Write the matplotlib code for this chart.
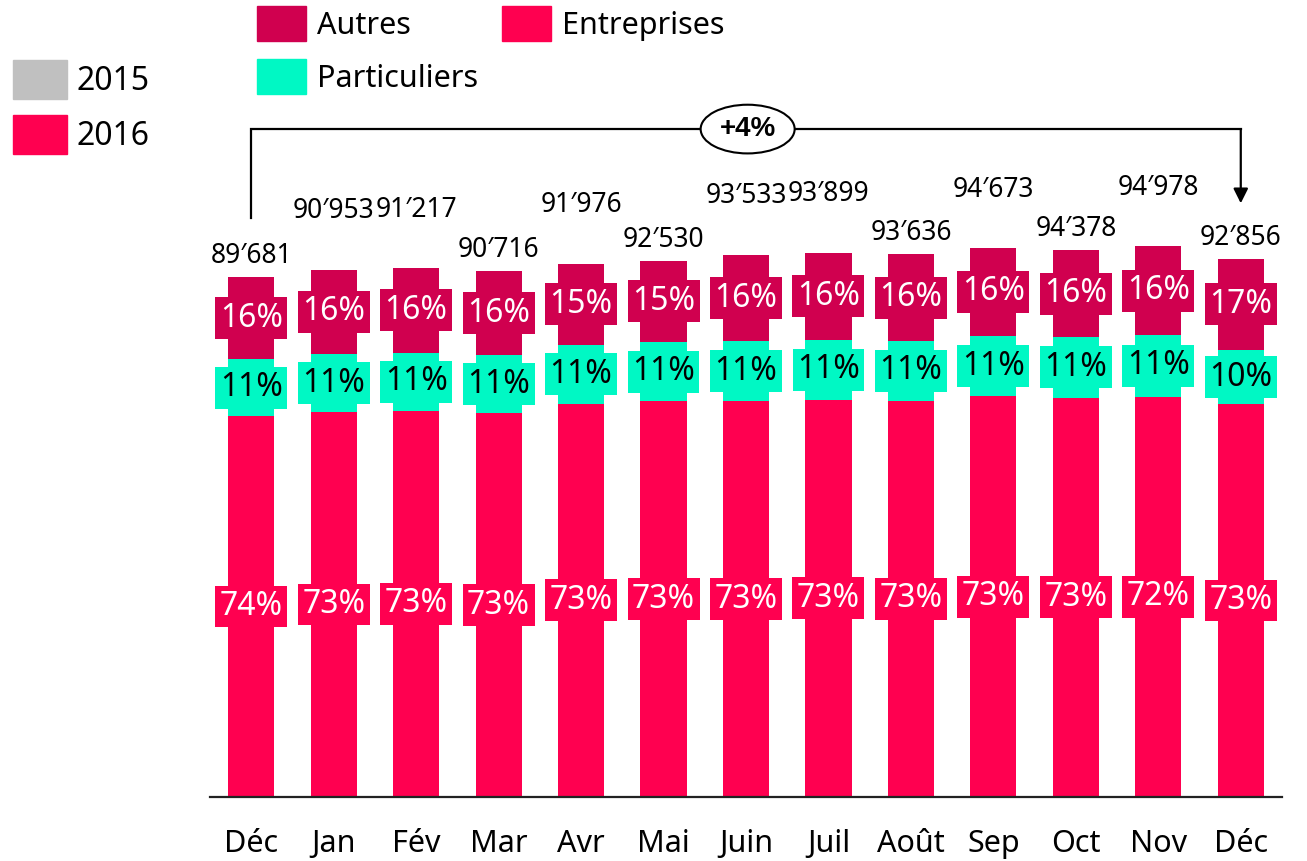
import matplotlib
matplotlib.use("Agg")
import numpy as np
import matplotlib.pyplot as plt
from matplotlib.patches import Patch, Ellipse

plt.rcParams['font.family'] = ['Noto Sans', 'DejaVu Sans']

months = ["Déc", "Jan", "Fév", "Mar", "Avr", "Mai", "Juin", "Juil", "Août", "Sep", "Oct", "Nov", "Déc"]
totals = [89681, 90953, 91217, 90716, 91976, 92530, 93533, 93899, 93636, 94673, 94378, 94978, 92856]
pct_entreprises = [74, 73, 73, 73, 73, 73, 73, 73, 73, 73, 73, 72, 73]
pct_particuliers = [11, 11, 11, 11, 11, 11, 11, 11, 11, 11, 11, 11, 10]
pct_autres = [16, 16, 16, 16, 15, 15, 16, 16, 16, 16, 16, 16, 17]

c_autres = "#D0004F"
c_ent = "#FF0050"
c_part = "#00F8C4"
c_2015 = "#C0C0C0"

# label levels for the totals (0 = just above the bar, 1 = lifted)
label_level = [0, 1, 1, 0, 1, 0, 1, 1, 0, 1, 0, 1, 0]

tot = np.array(totals, dtype=float)
pe = np.array(pct_entreprises, dtype=float)
pp = np.array(pct_particuliers, dtype=float)
pa = np.array(pct_autres, dtype=float)
s = pe + pp + pa
v_ent = tot * pe / s
v_part = tot * pp / s
v_aut = tot * pa / s

fig = plt.figure(figsize=(13.07, 8.61), dpi=100)
ax = fig.add_axes([210 / 1307, 64 / 861, (1282 - 210) / 1307, 797 / 861])
x = np.arange(len(months))
w = 0.56

ax.bar(x, v_ent, w, color=c_ent)
ax.bar(x, v_part, w, bottom=v_ent, color=c_part)
ax.bar(x, v_aut, w, bottom=v_ent + v_part, color=c_autres)

ax.set_xlim(-0.5, 12.5)
ax.set_ylim(0, 797 / 0.005798)
for sp in ["top", "left", "right"]:
    ax.spines[sp].set_visible(False)
ax.spines["bottom"].set_linewidth(1.6)
ax.spines["bottom"].set_color("#222222")
ax.set_yticks([])
ax.set_xticks(x)
ax.set_xticklabels(months, fontsize=22)
ax.tick_params(axis="x", length=0, pad=23)

# segment labels
def seg_label(xi, yc, txt, fc, tc):
    ax.text(xi, yc, txt, ha="center", va="center", fontsize=23, color=tc,
            bbox=dict(boxstyle="square,pad=0.14", fc=fc, ec="none"))

for i in x:
    seg_label(i, v_ent[i] / 2, f"{pct_entreprises[i]}%", c_ent, "white")
    seg_label(i, v_ent[i] + v_part[i] / 2, f"{pct_particuliers[i]}%", c_part, "black")
    seg_label(i, v_ent[i] + v_part[i] + v_aut[i] / 2, f"{pct_autres[i]}%", c_autres, "white")

# totals
for i in x:
    off = 10 if label_level[i] == 0 else 37
    ax.annotate(f"{totals[i]:,}".replace(",", "′"), (i, totals[i]),
                xytext=(0, off), textcoords="offset points",
                ha="center", va="baseline", fontsize=19)

# growth bracket
y_br = 115200
ax.plot([0, 0, 12], [99800, y_br, y_br], color="black", lw=1.6, solid_joinstyle="miter")
ax.annotate("", xy=(12, 102400), xytext=(12, y_br),
            arrowprops=dict(arrowstyle="-|>", lw=1.6, color="black",
                            mutation_scale=22, shrinkA=0, shrinkB=0))
growth = (totals[-1] - totals[0]) / totals[0] * 100
ax.add_patch(Ellipse((6.02, y_br), 1.14, 8400, fc="white", ec="black", lw=1.5, zorder=3))
ax.text(6.02, y_br, f"+{growth:.0f}%", ha="center", va="center", fontsize=20,
        fontweight="bold", family=["Liberation Sans", "DejaVu Sans"], zorder=4)

# legends
fig.legend(handles=[Patch(color=c_2015, label="2015"), Patch(color=c_ent, label="2016")],
           loc="upper left", bbox_to_anchor=(13 / 1307, 1 - 60 / 861),
           frameon=False, fontsize=23, handlelength=1.7, handleheight=1.49,
           handletextpad=0.3, labelspacing=0.5, borderpad=0, borderaxespad=0)
fig.legend(handles=[Patch(color=c_autres, label="Autres"), Patch(color=c_part, label="Particuliers"),
                    Patch(color=c_ent, label="Entreprises")],
           ncol=2, loc="upper left", bbox_to_anchor=(257 / 1307, 1 - 6 / 861),
           frameon=False, fontsize=22, handlelength=1.6, handleheight=1.39,
           handletextpad=0.36, labelspacing=0.59, columnspacing=0.8,
           borderpad=0, borderaxespad=0)

fig.savefig("out.png", dpi=100)
